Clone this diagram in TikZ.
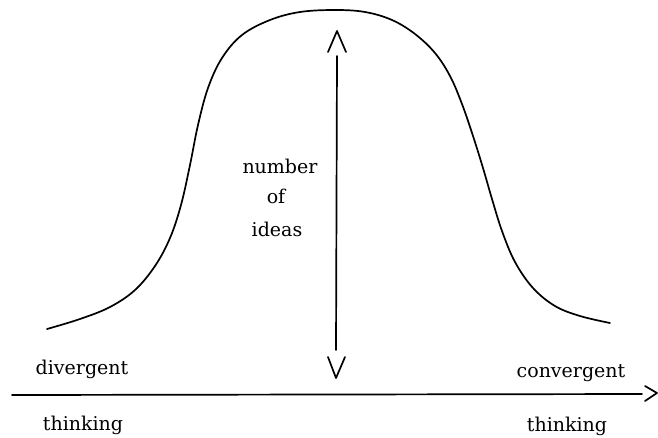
\documentclass[tikz,border=0pt]{standalone}
\usepackage{fontspec}
\setmainfont{DejaVu Serif}
\begin{document}
\begin{tikzpicture}[x=1pt,y=-1pt,
  ink/.style={line width=1.7pt,line cap=round,line join=round},
  lbl/.style={anchor=base,inner sep=0pt,font=\fontsize{19}{23}\selectfont}]
\useasboundingbox (0,0) rectangle (658,437);
% bell curve
\draw[ink] plot[smooth,tension=0.6] coordinates {
 (47,329) (80,319) (110,307) (135,290) (155,266) (170,238) (181,205)
 (190,165) (198,125) (208,88) (222,58) (242,35) (270,20) (300,12) (335,10)
 (365,12) (392,20) (415,34) (435,53) (450,76) (462,104) (473,136)
 (483,168) (492,199) (502,231) (515,262) (533,288) (555,306) (580,316) (610,323)};
% vertical double arrow
\coordinate (vtop) at (337,56);
\coordinate (vbot) at (336,350);
\draw[ink] (vtop) -- (vbot);
\draw[ink] (328,52) -- (337,31) -- (346,52);
\draw[ink] (328,357) -- (336,378) -- (345,357);
% horizontal axis
\coordinate (axL) at (12,395);
\coordinate (axR) at (642,394);
\draw[ink] (axL) -- (axR);
\draw[ink] (645,386) -- (657,393) -- (645,401);
% labels
\node[lbl] (n1) at (280,173) {number};
\node[lbl] (n2) at (276,203) {of};
\node[lbl] (n3) at (277,236) {ideas};
\node[lbl] (dv) at (82,374) {divergent};
\node[lbl] (th1) at (83,430) {thinking};
\node[lbl] (cv) at (571,377) {convergent};
\node[lbl] (th2) at (567,431) {thinking};
\end{tikzpicture}
\end{document}
